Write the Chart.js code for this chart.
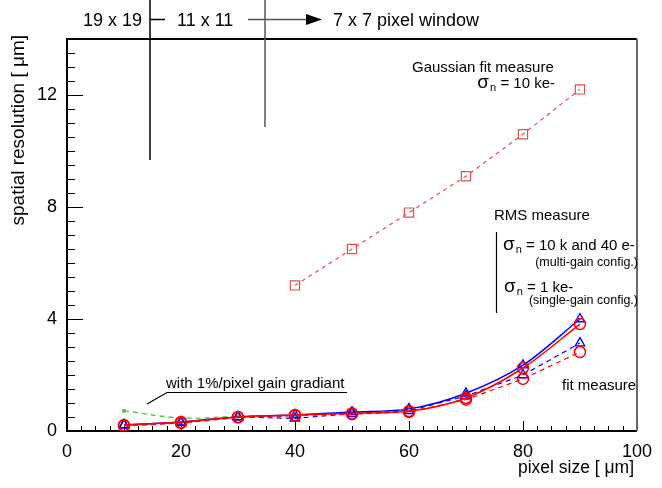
<!DOCTYPE html>
<html>
<head>
<meta charset="utf-8">
<script src="https://cdn.jsdelivr.net/npm/chart.js@4.4.1/dist/chart.umd.min.js"></script>
<style>
  body { margin: 0; background: #fff; }
  canvas { display: block; }
</style>
</head>
<body>
<canvas id="c" width="662" height="488"></canvas>
<script>
const pixelSize = [10, 20, 30, 40, 50, 60, 70, 80, 90];
const gaussFit = [null, null, null, 5.2, 6.5, 7.8, 9.1, 10.6, 12.2];
const fitMulti = [0.22, 0.32, 0.5, 0.57, 0.68, 0.79, 1.35, 2.35, 4.0];
const fitSingle = [0.21, 0.32, 0.5, 0.57, 0.63, 0.71, 1.18, 2.25, 3.82];
const rmsMulti = [0.2, 0.3, 0.5, 0.45, 0.62, 0.72, 1.25, 2.0, 3.14];
const rmsSingle = [0.18, 0.28, 0.48, 0.55, 0.6, 0.68, 1.12, 1.86, 2.82];
const gainGradient = [0.72, 0.47, 0.52, 0.55, null, null, null, null, null];

const xMajor = 20, yMajor = 4;
const FONT = '"Liberation Sans", Arial, Helvetica, sans-serif';

function points(values) {
    return pixelSize.map((x, i) => ({ x: x, y: values[i] })).filter(p => p.y !== null);
}

const RED = 'rgb(255,0,0)';
const BLUE = 'rgb(0,0,255)';
const GREEN = 'rgb(80,205,60)';
const GAUSS = 'rgb(222,80,80)';

// draws the frame and the ticks inside the plot, ROOT style
const framePlugin = {
    id: 'frame',
    beforeDatasetsDraw(chart) {
        const { ctx, chartArea: a, scales: { x, y } } = chart;
        ctx.save();
        ctx.strokeStyle = '#000';
        ctx.lineWidth = 1;
        ctx.beginPath();
        x.ticks.forEach(t => {
            const px = Math.round(x.getPixelForValue(t.value)) + 0.5;
            const len = t.value % xMajor === 0 ? 10 : 5;
            ctx.moveTo(px, a.bottom);
            ctx.lineTo(px, a.bottom - len);
        });
        y.ticks.forEach(t => {
            const py = Math.round(y.getPixelForValue(t.value)) + 0.5;
            const len = t.value % yMajor === 0 ? 16 : 8;
            ctx.moveTo(a.left, py);
            ctx.lineTo(a.left + len, py);
        });
        ctx.stroke();

        ctx.lineWidth = 2;
        ctx.beginPath();
        ctx.moveTo(a.right, a.top);
        ctx.lineTo(a.left, a.top);
        ctx.lineTo(a.left, a.bottom);
        ctx.lineTo(a.right, a.bottom);
        ctx.stroke();
        ctx.strokeStyle = '#666';
        ctx.beginPath();
        ctx.moveTo(a.right, a.top);
        ctx.lineTo(a.right, a.bottom);
        ctx.stroke();
        ctx.restore();
    }
};

function sigmaText(ctx, x, y, rest, align) {
    ctx.font = '19px ' + FONT;
    const w1 = ctx.measureText('\u03c3').width;
    ctx.font = '11px ' + FONT;
    const w2 = ctx.measureText('n').width;
    ctx.font = '15px ' + FONT;
    const w3 = ctx.measureText(rest).width;
    let left = align === 'right' ? x - (w1 + w2 + w3 + 1) : x;
    ctx.textAlign = 'left';
    ctx.font = '19px ' + FONT;
    ctx.fillText('\u03c3', left, y);
    ctx.font = '11px ' + FONT;
    ctx.fillText('n', left + w1 + 1, y + 3);
    ctx.font = '15px ' + FONT;
    ctx.fillText(rest, left + w1 + w2 + 1, y);
}

const notesPlugin = {
    id: 'notes',
    afterDraw(chart) {
        const ctx = chart.ctx;
        ctx.save();
        ctx.fillStyle = '#000';
        ctx.textBaseline = 'alphabetic';

        // pixel window annotation at top
        ctx.font = '18px ' + FONT;
        ctx.textAlign = 'left';
        ctx.fillText('19 x 19', 83, 26);
        ctx.fillText('11 x 11', 177, 26);
        ctx.fillText('7 x 7 pixel window', 333, 26);
        ctx.strokeStyle = '#000';
        ctx.lineWidth = 1.5;
        ctx.beginPath();
        ctx.moveTo(150, 0); ctx.lineTo(150, 160);
        ctx.moveTo(150, 19.5); ctx.lineTo(165, 19.5);
        ctx.stroke();
        ctx.strokeStyle = '#555';
        ctx.beginPath();
        ctx.moveTo(265, 0); ctx.lineTo(265, 127);
        ctx.moveTo(248, 19.5); ctx.lineTo(310, 19.5);
        ctx.stroke();
        ctx.fillStyle = '#000';
        ctx.beginPath();
        ctx.moveTo(322, 19.5); ctx.lineTo(306, 14); ctx.lineTo(306, 25); ctx.closePath();
        ctx.fill();

        // Gaussian fit label
        ctx.font = '15px ' + FONT;
        ctx.fillText('Gaussian fit measure', 412, 72);
        sigmaText(ctx, 555, 88, ' = 10 ke-', 'right');

        // RMS label
        ctx.font = '15px ' + FONT;
        ctx.textAlign = 'left';
        ctx.fillText('RMS measure', 494, 220);
        ctx.strokeStyle = '#000';
        ctx.lineWidth = 1.2;
        ctx.beginPath();
        ctx.moveTo(496.5, 232); ctx.lineTo(496.5, 313);
        ctx.stroke();
        sigmaText(ctx, 503, 250, ' = 10 k and 40 e-', 'left');
        ctx.font = '12.5px ' + FONT;
        ctx.textAlign = 'right';
        ctx.fillText('(multi-gain config.)', 638, 266);
        sigmaText(ctx, 504, 292, ' = 1 ke-', 'left');
        ctx.font = '12.5px ' + FONT;
        ctx.textAlign = 'right';
        ctx.fillText('(single-gain config.)', 638, 304);

        ctx.font = '15px ' + FONT;
        ctx.textAlign = 'left';
        ctx.fillText('fit measure', 562, 390);

        ctx.fillText('with 1%/pixel gain gradiant', 166, 388);
        ctx.lineWidth = 1.2;
        ctx.beginPath();
        ctx.moveTo(147, 404); ctx.lineTo(167, 392.5); ctx.lineTo(347, 392.5);
        ctx.stroke();

        // axis titles
        ctx.font = '17.5px ' + FONT;
        ctx.textAlign = 'right';
        ctx.fillText('pixel size [ \u03bcm]', 634, 473);
        ctx.font = '19px ' + FONT;
        ctx.translate(24, 35);
        ctx.rotate(-Math.PI / 2);
        ctx.fillText('spatial resolution [ \u03bcm]', 0, 0);
        ctx.restore();
    }
};

new Chart(document.getElementById('c'), {
    type: 'line',
    data: {
        datasets: [
            {
                data: points(fitSingle), borderColor: RED, borderWidth: 1.5,
                cubicInterpolationMode: 'monotone',
                pointStyle: 'circle', pointRadius: 5.5, pointBorderWidth: 1.5,
                pointBorderColor: RED, pointBackgroundColor: 'rgba(0,0,0,0)'
            },
            {
                data: points(rmsSingle), borderColor: RED, borderWidth: 1.2, borderDash: [5, 4],
                tension: 0,
                pointStyle: 'circle', pointRadius: 5.5, pointBorderWidth: 1.5,
                pointBorderColor: RED, pointBackgroundColor: 'rgba(0,0,0,0)'
            },
            {
                data: points(fitMulti), borderColor: BLUE, borderWidth: 1.5,
                cubicInterpolationMode: 'monotone',
                pointStyle: 'triangle', pointRadius: 5.5, pointBorderWidth: 1.3,
                pointBorderColor: BLUE, pointBackgroundColor: 'rgba(0,0,0,0)'
            },
            {
                data: points(rmsMulti), borderColor: BLUE, borderWidth: 1.2, borderDash: [5, 4],
                tension: 0,
                pointStyle: 'triangle', pointRadius: 5.5, pointBorderWidth: 1.3,
                pointBorderColor: BLUE, pointBackgroundColor: 'rgba(0,0,0,0)'
            },
            {
                data: points(gainGradient), borderColor: GREEN, borderWidth: 1.4, borderDash: [5, 4],
                tension: 0.4,
                pointStyle: 'circle', pointRadius: 2.2, pointBorderWidth: 0,
                pointBackgroundColor: GREEN
            },
            {
                data: points(gaussFit), borderColor: GAUSS, borderWidth: 1.2, borderDash: [4, 4],
                tension: 0,
                pointStyle: 'rect', pointRadius: 6.5, pointBorderWidth: 1.2,
                pointBorderColor: GAUSS, pointBackgroundColor: 'rgba(0,0,0,0)'
            }
        ]
    },
    options: {
        responsive: false,
        animation: false,
        layout: { padding: { top: 39, right: 20, left: 0, bottom: 0 } },
        plugins: { legend: { display: false }, tooltip: { enabled: false } },
        scales: {
            x: {
                type: 'linear', min: 0, max: 100,
                grid: { display: false, drawTicks: false },
                border: { display: false },
                afterFit: s => { s.height = 57; },
                ticks: {
                    stepSize: 2.5, autoSkip: false, maxRotation: 0, padding: 10,
                    color: '#000', font: { family: FONT, size: 18 },
                    callback: v => (v % xMajor === 0 ? v : '')
                }
            },
            y: {
                type: 'linear', min: 0, max: 14,
                grid: { display: false, drawTicks: false },
                border: { display: false },
                afterFit: s => { s.width = 67; },
                ticks: {
                    stepSize: 0.5, autoSkip: false, padding: 10,
                    color: '#000', font: { family: FONT, size: 18 },
                    callback: v => (v % yMajor === 0 ? v : '')
                }
            }
        }
    },
    plugins: [framePlugin, notesPlugin]
});
</script>
</body>
</html>
